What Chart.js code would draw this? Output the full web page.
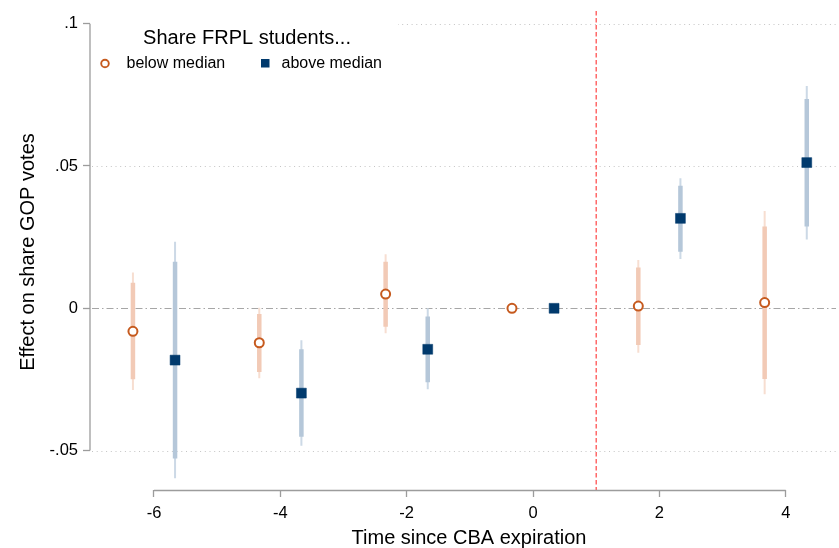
<!DOCTYPE html>
<html>
<head>
<meta charset="utf-8">
<title>Effect on share GOP votes by share FRPL students</title>
<script src="https://cdn.jsdelivr.net/npm/chart.js"></script>
<style>
  html, body { margin: 0; padding: 0; background: #fff; }
  #wrap { width: 839px; height: 548px; }
</style>
</head>
<body>
<div id="wrap"><canvas id="chart" width="839" height="548"></canvas></div>
<script>
// event time (years since CBA expiration); the two groups are drawn a third to each side
const periods = [-6, -4, -2, 0, 2, 4];
const shift = 1 / 3;

// schools with share FRPL below median
const belowEst  = [-0.0081, -0.0121, 0.0050, 0, 0.0008, 0.0020];
const belowLo90 = [-0.0249, -0.0224, -0.0065, null, -0.0129, -0.0248];
const belowHi90 = [0.0090, -0.0020, 0.0164, null, 0.0143, 0.0287];
const belowLo95 = [-0.0287, -0.0246, -0.0088, null, -0.0156, -0.0302];
const belowHi95 = [0.0126, 0.0002, 0.0190, null, 0.0170, 0.0342];

// schools with share FRPL above median
const aboveEst  = [-0.0182, -0.0298, -0.0144, 0, 0.0316, 0.0512];
const aboveLo90 = [-0.0528, -0.0451, -0.0260, null, 0.0199, 0.0287];
const aboveHi90 = [0.0164, -0.0144, -0.0029, null, 0.0431, 0.0735];
const aboveLo95 = [-0.0597, -0.0483, -0.0284, null, 0.0173, 0.0242];
const aboveHi95 = [0.0234, -0.0112, 0.0000, null, 0.0457, 0.0781];

const xTicks = [-6, -4, -2, 0, 2, 4];
const yTicks = [-0.05, 0, 0.05, 0.1];
const yTickLabels = ['-.05', '0', '.05', '.1'];
const expiryLine = 1;

const FONT = '"Liberation Sans", Arial, Helvetica, sans-serif';
const ORANGE = '#c65a1e';
const NAVY = '#013a6d';
const AXIS_GRAY = '#9c9c9c';

const belowX = periods.map(p => p - shift);
const aboveX = periods.map(p => p + shift);

// vertical segments lo..hi separated by gaps
function ciSegments(xs, lo, hi) {
  const pts = [];
  xs.forEach((x, i) => {
    if (lo[i] == null) return;
    pts.push({ x, y: lo[i] }, { x, y: hi[i] }, { x, y: null });
  });
  return pts;
}
const points = (xs, ys) => xs.map((x, i) => ({ x, y: ys[i] }));

function ciSet(data, color, width, order) {
  return {
    data, showLine: true, spanGaps: false, borderColor: color, borderWidth: width,
    borderCapStyle: 'butt', pointRadius: 0, pointHoverRadius: 0, order
  };
}

// gridlines, reference lines, axis lines, legend and axis titles
const frame = {
  id: 'frame',
  beforeDatasetsDraw(chart) {
    const { ctx, chartArea: a, scales: { x, y } } = chart;
    ctx.save();
    ctx.lineWidth = 1;
    ctx.strokeStyle = '#c4c4c4';
    ctx.setLineDash([1, 3.7]);
    for (const v of yTicks) {
      if (v === 0) continue;
      const py = Math.round(y.getPixelForValue(v)) + 0.5;
      ctx.beginPath(); ctx.moveTo(a.left + 2, py); ctx.lineTo(a.right, py); ctx.stroke();
    }
    // zero line, dash-dot
    ctx.strokeStyle = '#a6a6a6';
    ctx.setLineDash([7, 3, 1.5, 3]);
    const y0 = Math.round(y.getPixelForValue(0)) + 0.5;
    ctx.beginPath(); ctx.moveTo(a.left + 2, y0); ctx.lineTo(a.right, y0); ctx.stroke();

    // CBA expiration
    ctx.strokeStyle = '#ff5252';
    ctx.lineWidth = 1.3;
    ctx.setLineDash([4.5, 2.5]);
    const xr = x.getPixelForValue(expiryLine);
    ctx.beginPath(); ctx.moveTo(xr, a.top); ctx.lineTo(xr, a.bottom); ctx.stroke();

    // axis lines span only the labelled range
    ctx.setLineDash([]);
    ctx.strokeStyle = AXIS_GRAY;
    ctx.lineWidth = 1.3;
    ctx.beginPath();
    ctx.moveTo(a.left, y.getPixelForValue(yTicks[yTicks.length - 1]));
    ctx.lineTo(a.left, y.getPixelForValue(yTicks[0]));
    ctx.stroke();
    ctx.beginPath();
    ctx.moveTo(x.getPixelForValue(xTicks[0]), a.bottom + 0.5);
    ctx.lineTo(x.getPixelForValue(xTicks[xTicks.length - 1]), a.bottom + 0.5);
    ctx.stroke();
    ctx.restore();
  },
  afterDatasetsDraw(chart) {
    const { ctx, chartArea: a } = chart;
    ctx.save();
    // legend
    ctx.fillStyle = '#fff';
    ctx.fillRect(a.left + 2, a.top + 2, 306, 72);
    ctx.fillStyle = '#000';
    ctx.textBaseline = 'middle';
    ctx.textAlign = 'center';
    ctx.font = '20px ' + FONT;
    ctx.fillText('Share FRPL students...', 247, 38);
    ctx.textAlign = 'left';
    ctx.font = '16px ' + FONT;
    ctx.fillText('below median', 126.5, 64);
    ctx.fillText('above median', 281.5, 64);
    ctx.strokeStyle = ORANGE;
    ctx.lineWidth = 1.9;
    ctx.beginPath(); ctx.arc(105, 63.5, 3.8, 0, Math.PI * 2); ctx.stroke();
    ctx.fillStyle = NAVY;
    ctx.fillRect(261, 59, 8.5, 8.5);

    // axis titles
    ctx.fillStyle = '#000';
    ctx.font = '20px ' + FONT;
    ctx.textAlign = 'center';
    ctx.fillText('Time since CBA expiration', 469, 538);
    ctx.translate(28, 252);
    ctx.rotate(-Math.PI / 2);
    ctx.fillText('Effect on share GOP votes', 0, 0);
    ctx.restore();
  }
};

new Chart(document.getElementById('chart'), {
  type: 'scatter',
  data: {
    datasets: [
      { label: 'below median', data: points(belowX, belowEst), pointStyle: 'circle', pointRadius: 4.5,
        pointBorderWidth: 2, pointBorderColor: ORANGE, pointBackgroundColor: '#fff', order: 0 },
      { label: 'above median', data: points(aboveX, aboveEst), pointStyle: 'rect', pointRadius: 7,
        pointBorderWidth: 0.5, pointBorderColor: NAVY, pointBackgroundColor: NAVY, order: 0 },
      ciSet(ciSegments(belowX, belowLo90, belowHi90), '#f2cab6', 4.5, 1),
      ciSet(ciSegments(aboveX, aboveLo90, aboveHi90), '#b5c7d9', 4.5, 1),
      ciSet(ciSegments(belowX, belowLo95, belowHi95), '#f7ded1', 2, 2),
      ciSet(ciSegments(aboveX, aboveLo95, aboveHi95), '#ccd9e6', 2, 2)
    ]
  },
  options: {
    responsive: false,
    animation: false,
    layout: { autoPadding: false, padding: { top: 11, right: 3, left: 0, bottom: 0 } },
    plugins: { legend: { display: false }, tooltip: { enabled: false } },
    scales: {
      x: {
        type: 'linear', min: -7.013, max: 4.796,
        afterBuildTicks: s => { s.ticks = xTicks.map(v => ({ value: v })); },
        afterFit: s => { s.height = 58; s.paddingLeft = 0; s.paddingRight = 0; },
        border: { display: false },
        grid: { drawOnChartArea: false, drawTicks: true, tickLength: 7, tickColor: AXIS_GRAY, tickWidth: 1.3 },
        ticks: { color: '#000', font: { family: FONT, size: 16.5 }, padding: 7, callback: v => String(v) }
      },
      y: {
        type: 'linear', min: -0.06384, max: 0.10446,
        afterBuildTicks: s => { s.ticks = yTicks.map(v => ({ value: v })); },
        afterFit: s => { s.width = 90; s.paddingTop = 0; s.paddingBottom = 0; },
        border: { display: false },
        grid: { drawOnChartArea: false, drawTicks: true, tickLength: 7, tickColor: AXIS_GRAY, tickWidth: 1.3 },
        ticks: { color: '#000', font: { family: FONT, size: 16.5 }, padding: 5,
                 callback: v => yTickLabels[yTicks.indexOf(v)] }
      }
    }
  },
  plugins: [frame]
});
</script>
</body>
</html>
